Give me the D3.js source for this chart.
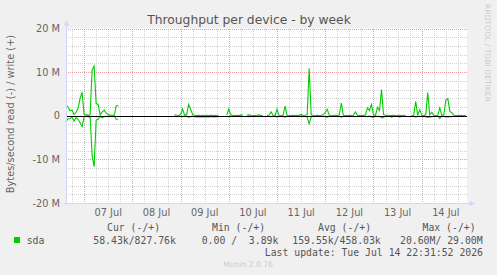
<!DOCTYPE html>
<html>
<head>
<meta charset="utf-8">
<script src="https://cdn.jsdelivr.net/npm/d3@7"></script>
<style>
  body { margin: 0; background: #f0f0f0; }
  svg { display: block; }
  text { font-family: "DejaVu Sans", sans-serif; }
  .mono { font-family: "DejaVu Sans Mono", monospace; }
</style>
</head>
<body>
<svg id="chart" width="497" height="275"></svg>
<script>
// hourly samples from 06 Jul 15:00, values in MB/s (null = no data)
const startTime = new Date(2026, 6, 6, 15, 0, 0);
const endTime = new Date(2026, 6, 14, 22, 31, 52);
const stepHours = 1;

const writes = [
  2.4, 2.0, 1.2, 1.3, 0.3, 0.8, 1.7, 4.0, 5.4, 0.3,
  0.2, 0.1, 0.2, 10.5, 11.4, 2.8, 2.6, 0.2, 0.9, 1.3,
  0.6, 0.3, 0.1, 0.1, 0.1, 2.3, 2.3, null, null, null,
  null, null, null, null, null, null, null, null, null, null,
  null, null, null, null, null, null, null, null, null, null,
  null, null, null, null, 0.2, 0.1, 0.05, 0.3, 1.5, 0.2,
  0.2, 2.6, 1.5, 0.3, 0.1, 0.05, 0.1, 0.05, 0.1, 0.05,
  0.1, 0.05, 0.1, 0.05, 0.1, 0.05, 0.1, null, null, null,
  0.2, 1.5, 0.2, 0.05, 0.05, 0.1, 0.05, 0.2, 0.1, null,
  0.1, 0.2, 0.1, 0.05, 0.05, 0.1, 0.2, 0.1, 0.05, null,
  0.05, 0.1, 0.9, 0.1, 0.05, 1.5, 0.1, 0.05, 0.1, 2.2,
  0.1, 0.05, 0.05, 0.1, 0.05, 0.1, 0.05, 0.3, 0.05, 0.1,
  0.2, 10.9, 0.2, 0.05, 0.05, 0.1, 0.05, 0.1, 0.2, 0.8,
  1.5, 0.1, 0.05, 0.05, 0.1, 0.05, 0.2, 2.9, 0.1, 0.05,
  0.05, 0.1, 0.05, 0.1, 0.9, 0.1, 0.05, 0.1, 0.05, 0.2,
  1.8, 1.2, 2.6, 0.2, 0.1, 1.9, 1.2, 6.0, 0.3, 0.05,
  0.1, 0.05, 0.05, 0.1, 0.05, 0.05, 0.1, 0.05, 0.05, 0.1,
  null, null, 0.05, 0.1, 3.3, 0.1, 1.4, 0.1, 0.05, 0.2,
  5.3, 0.2, 0.8, 0.1, 0.05, 0.1, 1.8, 0.1, 0.2, 3.6,
  3.9, 1.0, 0.7, 0.1, 0.05, 0.05, 0.1, 0.05, 0.05, 0.1
];

const reads = [
  1.4, 0.7, 0.7, 0.3, 1.2, 0.4, 0.8, 1.6, 2.5, 0.3,
  0.1, 0.2, 0.3, 9.0, 11.7, 1.0, 0.8, 0.1, 0.5, 0.2,
  0.1, 0.1, 0.05, 0.05, 0.05, 0.8, 0.8, null, null, null,
  null, null, null, null, null, null, null, null, null, null,
  null, null, null, null, null, null, null, null, null, null,
  null, null, null, null, 0.1, 0.2, 0.05, 0.1, 0.2, 0.05,
  0.1, 0.3, 0.2, 0.1, 0.2, 0.3, 0.2, 0.3, 0.2, 0.3,
  0.2, 0.3, 0.2, 0.2, 0.3, 0.2, 0.2, null, null, null,
  0.1, 0.2, 0.1, 0.05, 0.05, 0.1, 0.05, 0.2, 0.1, null,
  0.1, 0.2, 0.1, 0.05, 0.05, 0.1, 0.2, 0.1, 0.05, null,
  0.05, 0.1, 0.2, 0.1, 0.05, 0.3, 0.1, 0.05, 0.1, 0.3,
  0.1, 0.05, 0.05, 0.1, 0.05, 0.1, 0.05, 0.1, 0.05, 0.1,
  0.3, 1.8, 0.3, 0.05, 0.05, 0.1, 0.05, 0.1, 0.1, 0.2,
  0.3, 0.1, 0.05, 0.05, 0.1, 0.05, 0.1, 0.3, 0.1, 0.05,
  0.05, 0.1, 0.05, 0.1, 0.2, 0.1, 0.05, 0.1, 0.05, 0.1,
  0.2, 0.1, 0.3, 0.4, 0.1, 0.2, 0.1, 0.5, 0.4, 0.05,
  0.1, 0.05, 0.3, 0.1, 0.05, 0.05, 0.3, 0.05, 0.05, 0.1,
  null, null, 0.05, 0.1, 0.3, 0.1, 0.2, 0.1, 0.05, 0.2,
  0.4, 0.3, 0.2, 0.1, 0.05, 0.1, 0.6, 0.1, 0.1, 0.3,
  0.3, 0.2, 0.2, 0.1, 0.05, 0.05, 0.1, 0.05, 0.05, 0.05
];

const yTicks = [-20, -10, 0, 10, 20];
const yTickLabels = ["-20 M", "-10 M", "0", "10 M", "20 M"];
const dayTicks = [7, 8, 9, 10, 11, 12, 13, 14];

const legendHeaders = ["Cur (-/+)", "Min (-/+)", "Avg (-/+)", "Max (-/+)"];
const legendValues = ["58.43k/827.76k", "0.00 /  3.89k", "159.55k/458.03k", "20.60M/ 29.00M"];
const seriesName = "sda";
const lastUpdate = "Last update: Tue Jul 14 22:31:52 2026";

const svg = d3.select("#chart");
const L = 66, R = 467, T = 28.5, B = 203;

const X = d3.scaleTime().domain([startTime, endTime]).range([L, R]);
const Y = d3.scaleLinear().domain([-20, 20]).range([B, T]);

const timeAt = i => d3.timeHour.offset(startTime, i * stepHours);

// canvas
svg.append("rect").attr("x", L).attr("y", T).attr("width", R - L).attr("height", B - T).attr("fill", "#fff");

// grid
const grid = svg.append("g").attr("shape-rendering", "crispEdges");
const minorY = d3.range(-20, 21, 2).filter(v => v % 10 !== 0);
grid.selectAll(".hmin").data(minorY).enter().append("line")
  .attr("x1", L).attr("x2", R).attr("y1", d => Math.round(Y(d)) + 0.5).attr("y2", d => Math.round(Y(d)) + 0.5)
  .attr("stroke", "#d2d2d2").attr("stroke-dasharray", "1,1");
const minorX = d3.timeHour.every(6).range(startTime, endTime).filter(d => d.getHours() !== 0);
grid.selectAll(".vmin").data(minorX).enter().append("line")
  .attr("y1", T).attr("y2", B).attr("x1", d => Math.round(X(d)) + 0.5).attr("x2", d => Math.round(X(d)) + 0.5)
  .attr("stroke", "#d2d2d2").attr("stroke-dasharray", "1,1");
grid.selectAll(".hmaj").data(yTicks).enter().append("line")
  .attr("x1", L).attr("x2", R).attr("y1", d => Math.round(Y(d)) + 0.5).attr("y2", d => Math.round(Y(d)) + 0.5)
  .attr("stroke", "#eba0a0").attr("stroke-dasharray", "1,1");
const days = dayTicks.map(d => new Date(2026, 6, d));
grid.selectAll(".vmaj").data(days).enter().append("line")
  .attr("y1", T).attr("y2", B).attr("x1", d => Math.round(X(d)) + 0.5).attr("x2", d => Math.round(X(d)) + 0.5)
  .attr("stroke", "#eba0a0").attr("stroke-dasharray", "1,1");

// data
const line = d3.line().defined(d => d.v != null).x(d => X(d.t)).y(d => Y(d.v));
const writeData = writes.map((v, i) => ({t: timeAt(i), v: v}));
const readData = reads.map((v, i) => ({t: timeAt(i), v: v == null ? null : -v}));
svg.selectAll(".series").data([readData, writeData]).enter().append("path")
  .attr("d", line).attr("fill", "none").attr("stroke", "#00cc00").attr("stroke-width", 1.1);

// zero rule
svg.append("line").attr("x1", L).attr("x2", R).attr("y1", Math.round(Y(0)) + 0.5).attr("y2", Math.round(Y(0)) + 0.5)
  .attr("stroke", "#000").attr("stroke-width", 1.2);

// axes
const axisCol = "#cfd6f8";
svg.append("line").attr("x1", L + 0.5).attr("x2", L + 0.5).attr("y1", B + 2).attr("y2", T - 4).attr("stroke", axisCol);
svg.append("path").attr("d", `M${L - 2},${T - 3} L${L + 3},${T - 3} L${L + 0.5},${T - 8} Z`).attr("fill", axisCol);
svg.append("line").attr("x1", L - 2).attr("x2", R + 4).attr("y1", B + 0.5).attr("y2", B + 0.5).attr("stroke", axisCol);
svg.append("path").attr("d", `M${R + 3},${B - 2} L${R + 3},${B + 3} L${R + 8},${B + 0.5} Z`).attr("fill", axisCol);

// y labels
svg.selectAll(".ylab").data(yTicks).enter().append("text")
  .attr("x", 60).attr("y", d => Y(d) + 3.5).attr("text-anchor", "end")
  .attr("font-size", "9.8px").attr("fill", "#666")
  .text((d, i) => yTickLabels[i]);

// x labels at noon
const fmt = d3.timeFormat("%d %b");
svg.selectAll(".xlab").data(days).enter().append("text")
  .attr("x", d => X(d3.timeHour.offset(d, 12))).attr("y", 216).attr("text-anchor", "middle")
  .attr("font-size", "9.8px").attr("fill", "#666")
  .text(d => fmt(d));

// titles
svg.append("text").attr("x", 249).attr("y", 24).attr("text-anchor", "middle")
  .attr("font-size", "12.3px").attr("fill", "#555").text("Throughput per device - by week");
svg.append("text").attr("transform", "translate(14,114) rotate(-90)").attr("text-anchor", "middle")
  .attr("font-size", "9.8px").attr("fill", "#666").text("Bytes/second read (-) / write (+)");
svg.append("text").attr("transform", "translate(485,53) rotate(90)").attr("text-anchor", "middle")
  .attr("font-size", "7.6px").attr("fill", "#ccc").text("RRDTOOL / TOBI OETIKER");

// legend
const hx = [107, 212, 318, 422.5];
const vx = [93.3, 201.7, 292.3, 400];
svg.selectAll(".lh").data(legendHeaders).enter().append("text").attr("class", "mono")
  .attr("x", (d, i) => hx[i]).attr("y", 231).attr("font-size", "9.8px").attr("fill", "#555").text(d => d);
svg.selectAll(".lv").data(legendValues).enter().append("text").attr("class", "mono")
  .attr("x", (d, i) => vx[i]).attr("y", 243.5).attr("font-size", "9.8px").attr("fill", "#555")
  .attr("xml:space", "preserve").style("white-space", "pre").text(d => d);
svg.append("rect").attr("x", 14).attr("y", 237).attr("width", 6).attr("height", 6).attr("fill", "#00cc00");
svg.append("text").attr("class", "mono").attr("x", 26.7).attr("y", 243.5)
  .attr("font-size", "9.8px").attr("fill", "#555").text(seriesName);
svg.append("text").attr("class", "mono").attr("x", 483).attr("y", 255.5).attr("text-anchor", "end")
  .attr("font-size", "9.8px").attr("fill", "#555").text(lastUpdate);
svg.append("text").attr("x", 248).attr("y", 266.5).attr("text-anchor", "middle")
  .attr("font-size", "7.6px").attr("fill", "#ccc").text("Munin 2.0.76");
</script>
</body>
</html>
